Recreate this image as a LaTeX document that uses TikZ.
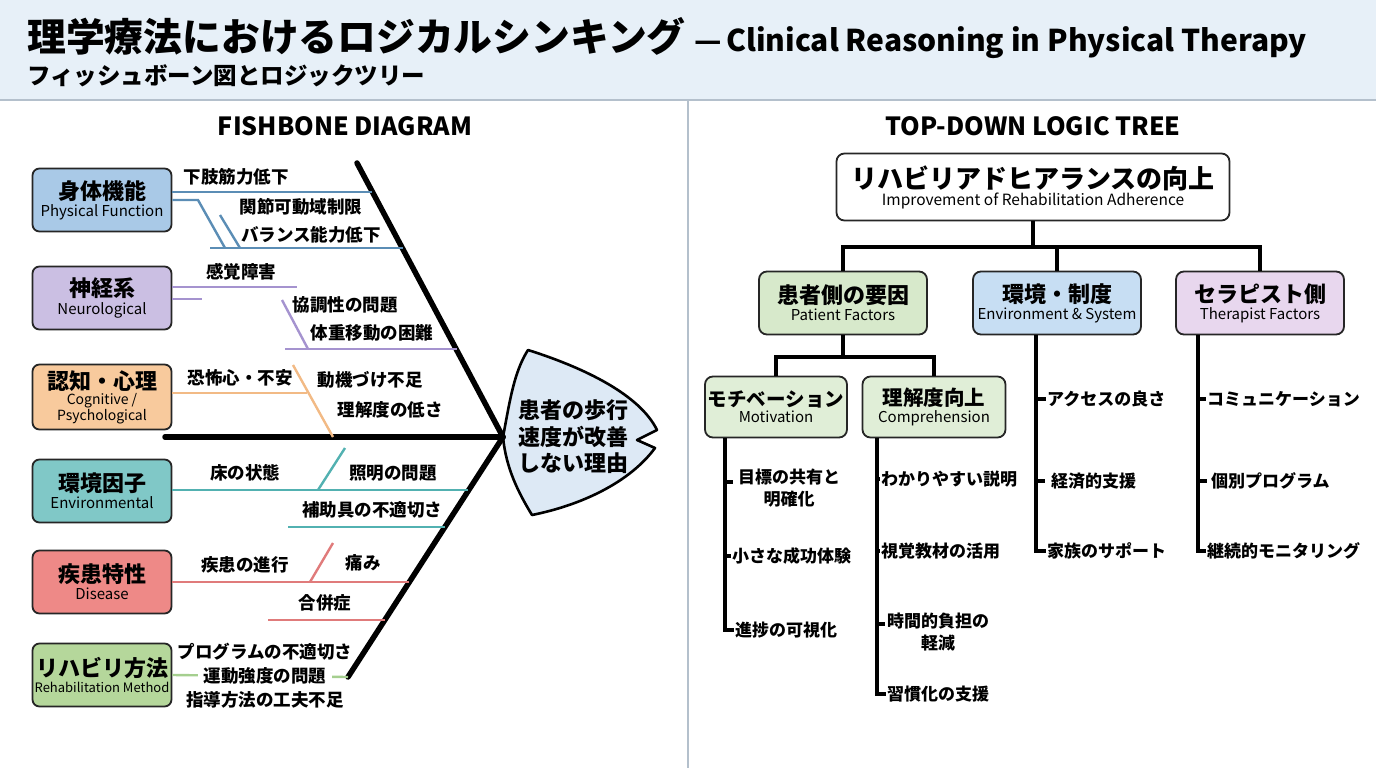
\documentclass[tikz,border=0pt]{standalone}
\usepackage{fontspec}
\setmainfont{Noto Sans CJK JP}
\usetikzlibrary{positioning}

\definecolor{hdrbg}{HTML}{E7F0F8}
\definecolor{hdrline}{HTML}{B4C0CC}
\definecolor{physf}{HTML}{A9C9E7}
\definecolor{physc}{HTML}{5B8DB5}
\definecolor{neurof}{HTML}{CBBFE3}
\definecolor{neuroc}{HTML}{A593CF}
\definecolor{cogf}{HTML}{F8CA9D}
\definecolor{cogc}{HTML}{F2BA85}
\definecolor{envff}{HTML}{80C8C7}
\definecolor{envfc}{HTML}{52B1B1}
\definecolor{disf}{HTML}{EE8987}
\definecolor{disc}{HTML}{E07B7B}
\definecolor{rehabf}{HTML}{B5D79B}
\definecolor{rehabc}{HTML}{A5CF8F}
\definecolor{headf}{HTML}{DDE9F5}
\definecolor{patf}{HTML}{D7E9CB}
\definecolor{subf}{HTML}{E0EED7}
\definecolor{envsf}{HTML}{C7DEF3}
\definecolor{thrf}{HTML}{E8D7EE}

\newcommand\catjp{\fontsize{22}{26}\selectfont\bfseries}
\newcommand\caten{\fontsize{15}{17}\selectfont\mdseries}
\newcommand\bonefont{\fontsize{17.5}{21}\selectfont\bfseries}
\newcommand\leaffont{\fontsize{17}{22}\selectfont\bfseries}

\begin{document}
\begin{tikzpicture}[x=1pt,y=-1pt,
    cat/.style={draw=black!85, line width=1.8pt, rounded corners=7pt,
                minimum width=139pt, minimum height=63pt, align=center, inner sep=1pt},
    bone/.style={line width=2.4pt},
    spine/.style={line width=5.5pt, line cap=round},
    bonelbl/.style={font=\bonefont, inner sep=1pt},
    tbox/.style={draw=black!85, line width=1.8pt, rounded corners=8pt, align=center, inner sep=1pt},
    tline/.style={line width=3.6pt},
    leaf/.style={anchor=west, font=\leaffont, align=center, inner sep=1pt}]

\path[use as bounding box] (0,0) rectangle (1376,768);

% header
\fill[hdrbg] (0,0) rectangle (1376,100);
\draw[hdrline, line width=1.5pt] (0,100) -- (1376,100);
\draw[hdrline, line width=1.2pt] (688,100) -- (688,768);
\node[anchor=west, inner sep=0] (title) at (27,38)
  {{\fontsize{38.8}{42}\selectfont\bfseries 理学療法におけるロジカルシンキング}\hspace{9pt}{\fontsize{30}{36}\selectfont\bfseries —\hspace{4pt}Clinical Reasoning in Physical Therapy}};
\node[anchor=west, inner sep=0] (subtitle) at (27,76)
  {\fontsize{23.5}{28}\selectfont\bfseries フィッシュボーン図とロジックツリー};

\node (fbhead) at (345,126) {\fontsize{25}{28}\selectfont\bfseries FISHBONE DIAGRAM};
\node (trhead) at (1033,126) {\fontsize{25}{28}\selectfont\bfseries TOP-DOWN LOGIC TREE};

% fishbone: category boxes
\node[cat, fill=physf]  (phys)  at (102,200) {\catjp 身体機能\\[2pt] \caten Physical Function};
\node[cat, fill=neurof] (neuro) at (102,298) {\catjp 神経系\\[2pt] \caten Neurological};
\node[cat, fill=cogf, minimum height=65pt] (cog) at (102,397)
  {\catjp 認知・心理\\[1pt] \fontsize{14}{15}\selectfont Cognitive /\\ \fontsize{14}{15}\selectfont Psychological};
\node[cat, fill=envff]  (envf)  at (102,491) {\catjp 環境因子\\[2pt] \caten Environmental};
\node[cat, fill=disf]   (dis)   at (102,582) {\catjp 疾患特性\\[2pt] \caten Disease};
\node[cat, fill=rehabf] (rehab) at (102,675) {\catjp リハビリ方法\\[2pt] \fontsize{13}{15}\selectfont Rehabilitation Method};

% fishbone: head
\coordinate (jn) at (503,437);
\coordinate (toptail) at (357,163);
\coordinate (bottail) at (348,677);
\draw[fill=headf, line width=2.6pt, line join=round]
  (jn) .. controls (510,400) and (514,372) .. (528,350)
  .. controls (585,368) and (640,395) .. (657,430) -- (637,440) -- (655,448)
  .. controls (630,482) and (582,505) .. (532,515)
  .. controls (518,492) and (506,468) .. (jn) -- cycle;
\node[align=center, font=\fontsize{22}{26.5}\selectfont\bfseries] (effect) at (573,437)
  {患者の歩行\\速度が改善\\しない理由};

% fishbone: spine
\draw[spine] (165,437) -- (jn);
\draw[spine] (toptail) -- (jn);
\draw[spine] (bottail) -- (jn);

% physical function
\draw[bone, physc] (phys.east |- 0,192) -- (372,192);
\draw[bone, physc] (phys.east |- 0,200) -- (198,200) -- (225,248);
\draw[bone, physc] (220,215) -- (240,248);
\draw[bone, physc] (210,248) -- (403,248);
\node[bonelbl] (p1) at (236,177) {下肢筋力低下};
\node[bonelbl] (p2) at (301,207) {関節可動域制限};
\node[bonelbl] (p3) at (311,235) {バランス能力低下};

% neurological
\draw[bone, neuroc] (neuro.east |- 0,287) -- (297,287);
\draw[bone, neuroc] (neuro.east |- 0,299) -- (202,299);
\draw[bone, neuroc] (282,300) -- (308,349);
\draw[bone, neuroc] (285,349) -- (457,349);
\node[bonelbl] (n1) at (241,272) {感覚障害};
\node[bonelbl] (n2) at (345,305) {協調性の問題};
\node[bonelbl] (n3) at (372,333) {体重移動の困難};

% cognitive
\draw[bone, cogc] (cog.east |- 0,393) -- (307,393);
\draw[bone, cogc] (293,365) -- (333,437);
\node[bonelbl] (c1) at (240,378) {恐怖心・不安};
\node[bonelbl] (c2) at (370,380) {動機づけ不足};
\node[bonelbl] (c3) at (390,410) {理解度の低さ};

% environmental
\draw[bone, envfc] (envf.east |- 0,490) -- (468,490);
\draw[bone, envfc] (318,490) -- (345,448);
\draw[bone, envfc] (288,527) -- (445,527);
\node[bonelbl] (e1) at (245,473) {床の状態};
\node[bonelbl] (e2) at (393,473) {照明の問題};
\node[bonelbl] (e3) at (372,510) {補助具の不適切さ};

% disease
\draw[bone, disc] (dis.east |- 0,582) -- (409,582);
\draw[bone, disc] (310,582) -- (333,543);
\draw[bone, disc] (268,620) -- (385,620);
\node[bonelbl] (d1) at (245,565) {疾患の進行};
\node[bonelbl] (d2) at (363,563) {痛み};
\node[bonelbl] (d3) at (325,603) {合併症};

% rehabilitation method
\draw[bone, rehabc] (rehab.east) -- (bottail);
\node[bonelbl] (r1) at (265,652) {プログラムの不適切さ};
\node[bonelbl, fill=white, inner xsep=6pt] (r2) at (265,676) {運動強度の問題};
\node[bonelbl] (r3) at (265,700) {指導方法の工夫不足};

% logic tree
\node[tbox, fill=white, minimum width=393pt, minimum height=67pt] (root) at (1033,187)
  {\fontsize{26}{30}\selectfont\bfseries リハビリアドヒアランスの向上\\[1pt] \fontsize{15.5}{18}\selectfont Improvement of Rehabilitation Adherence};
\node[tbox, fill=patf,  minimum width=168pt, minimum height=63pt] (pat)  at (843,303)
  {\catjp 患者側の要因\\[2pt] \caten Patient Factors};
\node[tbox, fill=envsf, minimum width=168pt, minimum height=63pt] (envs) at (1057,303)
  {\catjp 環境・制度\\[2pt] \caten Environment \& System};
\node[tbox, fill=thrf,  minimum width=168pt, minimum height=63pt] (thr)  at (1260,303)
  {\catjp セラピスト側\\[2pt] \caten Therapist Factors};
\node[tbox, fill=subf, minimum width=142pt, minimum height=61pt] (mot)  at (776,407)
  {\fontsize{19.5}{24}\selectfont\bfseries モチベーション\\[2pt] \caten Motivation};
\node[tbox, fill=subf, minimum width=143pt, minimum height=61pt] (comp) at (934,407)
  {\fontsize{20.5}{24}\selectfont\bfseries 理解度向上\\[2pt] \caten Comprehension};

\draw[tline] (root.south) -- (root.south |- 0,247);
\draw[tline] (pat.north) |- (thr.north |- 0,247) -- (thr.north);
\draw[tline] (envs.north) -- (envs.north |- 0,247);
\draw[tline] (pat.south) -- (pat.south |- 0,357);
\draw[tline] (mot.north) |- (comp.north |- 0,357) -- (comp.north);

% leaves: motivation
\node[leaf] (m1) at (737,488) {目標の共有と\\明確化};
\node[leaf] (m2) at (731,556) {小さな成功体験};
\node[leaf] (m3) at (734,630) {進捗の可視化};
\draw[tline] (mot.south -| 725,0) |- (m3.west);
\draw[tline] (725,482) -- ++(8,0);
\draw[tline] (725,556) -- (m2.west);

% leaves: comprehension
\node[leaf] (k1) at (880,479) {わかりやすい説明};
\node[leaf] (k2) at (880,551) {視覚教材の活用};
\node[leaf] (k3) at (886,632) {時間的負担の\\軽減};
\node[leaf] (k4) at (886,694) {習慣化の支援};
\draw[tline] (comp.south -| 877,0) |- (k4.west);
\draw[tline] (877,479) -- (k1.west);
\draw[tline] (877,551) -- (k2.west);
\draw[tline] (877,624) -- ++(8,0);

% leaves: environment
\node[leaf] (v1) at (1046,399) {アクセスの良さ};
\node[leaf] (v2) at (1050,481) {経済的支援};
\node[leaf] (v3) at (1046,551) {家族のサポート};
\draw[tline] (envs.south -| 1036,0) |- (v3.west);
\draw[tline] (1036,399) -- (v1.west);
\draw[tline] (1036,481) -- ++(9,0);

% leaves: therapist
\node[leaf] (t1) at (1206,399) {コミュニケーション};
\node[leaf] (t2) at (1210,481) {個別プログラム};
\node[leaf] (t3) at (1206,551) {継続的モニタリング};
\draw[tline] (thr.south -| 1198,0) |- (t3.west);
\draw[tline] (1198,399) -- (t1.west);
\draw[tline] (1198,481) -- ++(9,0);

\end{tikzpicture}
\end{document}
